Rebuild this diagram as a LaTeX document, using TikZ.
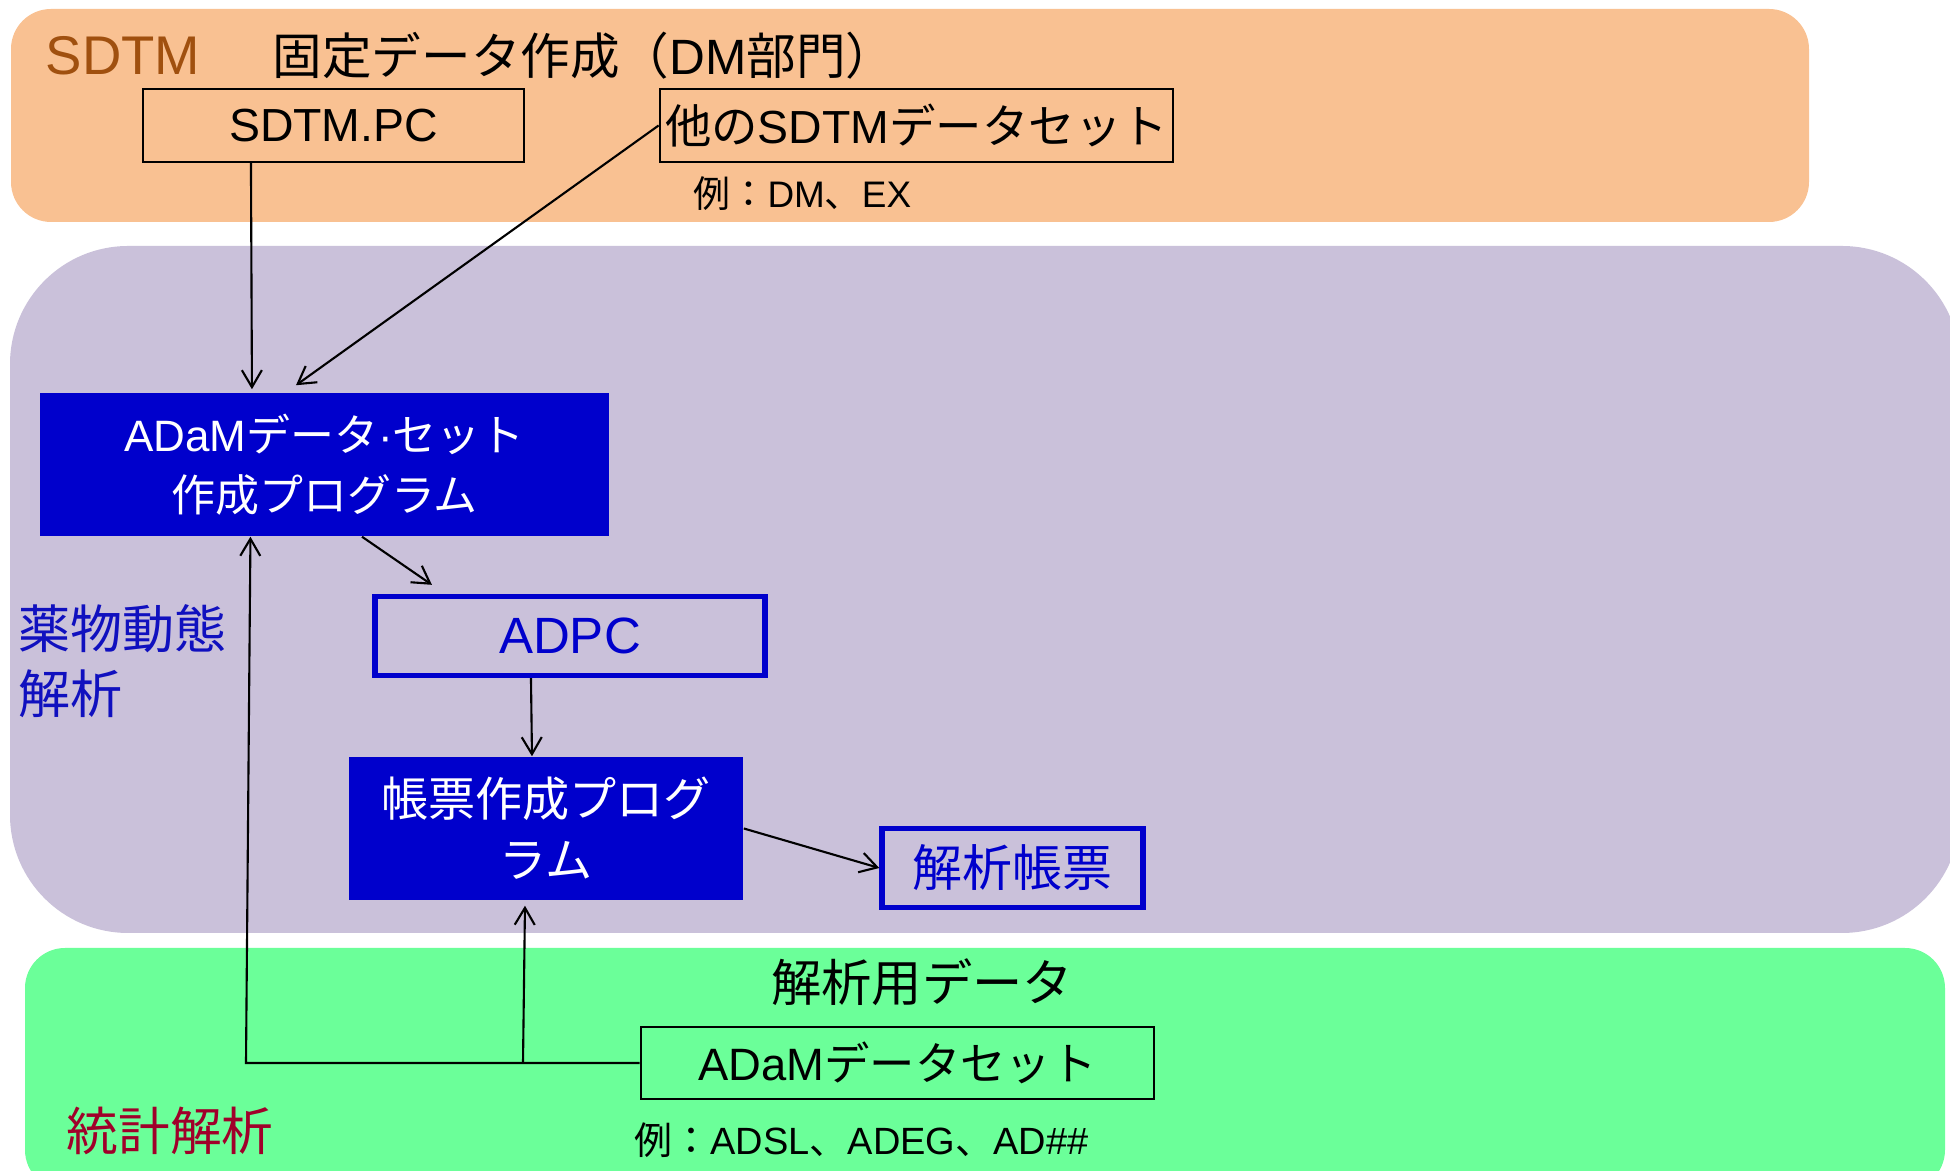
\documentclass[tikz,border=0pt]{standalone}
\usepackage{fontspec}
\setmainfont{Liberation Sans}
\newfontfamily\jp{Noto Sans CJK JP}
\usetikzlibrary{arrows.meta,calc}
\definecolor{orangebg}{HTML}{F9C192}
\definecolor{purplebg}{HTML}{CAC1DA}
\definecolor{greenbg}{HTML}{6BFF99}
\definecolor{sdtmbrown}{HTML}{A0500F}
\definecolor{statred}{HTML}{A0002A}
\definecolor{boxblue}{HTML}{0000CC}
\definecolor{textblue}{HTML}{1010BF}
\begin{document}
\begin{tikzpicture}[x=0.01cm,y=-0.01cm,
  blackbox/.style={draw=black, line width=0.7pt, inner sep=0pt, align=center},
  progbox/.style={fill=boxblue, text=white, inner sep=0pt, align=center},
  outbox/.style={draw=boxblue, line width=1.5pt, text=boxblue, inner sep=0pt, align=center},
  plain/.style={inner sep=0pt},
  arr/.style={-{Straight Barb[length=0.17cm,width=0.2cm]}, line width=0.6pt}]
\path[use as bounding box, clip] (0,0) rectangle (1950,1171);
% regions
\fill[orangebg, rounded corners=0.4cm] (11,9) rectangle (1809,222);
\fill[purplebg, rounded corners=1.18cm] (10,246) rectangle (1960,933);
\fill[greenbg, rounded corners=0.4cm] (25,948) rectangle (1945,1190);
% top labels
\node[plain, anchor=base west, text=sdtmbrown, font=\fontsize{15.5}{18}\selectfont] (sdtmlbl) at (45,75) {SDTM};
\node[plain, anchor=base, font=\fontsize{14.1}{16}\selectfont] (fixlbl) at (584,75) {{\jp 固定データ作成（}DM{\jp 部門）}};
\node[blackbox, minimum width=3.81cm, minimum height=0.73cm, font=\fontsize{13.2}{15}\selectfont] (sdtmpc) at (333.5,125.5) {SDTM.PC};
\node[blackbox, minimum width=5.13cm, minimum height=0.73cm, font=\fontsize{13.2}{15}\selectfont] (other) at (916.5,125.5) {{\jp 他の}SDTM{\jp データセット}};
\node[plain, anchor=base west, font=\fontsize{10.5}{12}\selectfont] (ex1) at (693,208) {{\jp 例：}DM{\jp 、}EX};
% middle
\node[progbox, minimum width=5.69cm, minimum height=1.43cm, font=\fontsize{12.5}{17}\selectfont] (adam) at (324.5,464.5) {ADaM{\jp データ}·{\jp セット}\\{\jp 作成プログラム}};
\node[outbox, minimum width=3.90cm, minimum height=0.79cm, font=\fontsize{14.5}{16}\selectfont] (adpc) at (570,636) {ADPC};
\node[progbox, minimum width=3.94cm, minimum height=1.43cm, font=\fontsize{13.4}{17.4}\selectfont] (rep) at (546,828.5) {{\jp 帳票作成プログ}\\{\jp ラム}};
\node[outbox, minimum width=2.61cm, minimum height=0.79cm, font=\jp\fontsize{14.2}{16}\selectfont] (kaiseki) at (1012.5,868) {解析帳票};
\node[plain, anchor=west, align=left, text=textblue, font=\jp\fontsize{14.8}{18.5}\selectfont] (pk) at (18,661) {薬物動態\\解析};
% bottom
\node[plain, anchor=west, text=statred, font=\jp\fontsize{14.7}{17}\selectfont] (stat) at (66,1131) {統計解析};
\node[plain, font=\jp\fontsize{14.3}{17}\selectfont] (anadata) at (922,982) {解析用データ};
\node[blackbox, minimum width=5.13cm, minimum height=0.72cm, font=\fontsize{12.9}{15}\selectfont] (adamds) at (897.5,1063) {ADaM{\jp データセット}};
\node[plain, anchor=base west, font=\fontsize{10.8}{12}\selectfont] (ex2) at (634,1155) {{\jp 例：}ADSL{\jp 、}ADEG{\jp 、}AD\#\#};
% connectors
\coordinate (corner) at (246,1063);
\coordinate (junc) at (523,1063);
\draw[arr] ([xshift=-0.825cm]sdtmpc.south) -- ([xshift=-0.725cm,yshift=0.03cm]adam.north);
\draw[arr] (other.west) -- ([xshift=-0.285cm,yshift=0.07cm]adam.north);
\draw[arr] ([xshift=0.375cm]adam.south) -- ([xshift=-1.38cm,yshift=0.09cm]adpc.north);
\draw[arr] ([xshift=-0.39cm]adpc.south) -- ([xshift=-0.14cm]rep.north);
\draw[arr] (rep.east) -- (kaiseki.west);
\draw[arr] (adamds.west) -- (corner) -- ([xshift=-0.74cm]adam.south);
\draw[arr] (junc) -- ([xshift=-0.21cm,yshift=-0.05cm]rep.south);
\end{tikzpicture}
\end{document}
